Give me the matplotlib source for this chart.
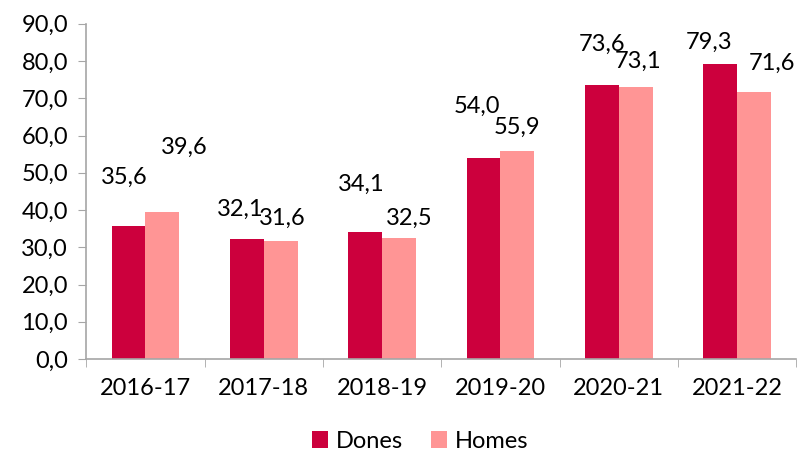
import numpy as np
import matplotlib.pyplot as plt
from matplotlib.ticker import FuncFormatter, FixedLocator

plt.rcParams['font.family'] = ['Lato', 'DejaVu Sans']

years = ['2016-17', '2017-18', '2018-19', '2019-20', '2020-21', '2021-22']
dones = [35.6, 32.1, 34.1, 54.0, 73.6, 79.3]
homes = [39.6, 31.6, 32.5, 55.9, 73.1, 71.6]

# label offsets (pixels) as placed in the original
off_d = [(-4, 49), (-7, 30), (-4, 48), (-7, 52), (0, 41), (-11, 21)]
off_h = [(22, 64), (2, 23), (10, 20), (0, 23), (2, 25), (18, 29)]

c_d = '#CC003D'
c_h = '#FF9595'

fig = plt.figure(figsize=(7.98, 4.53), dpi=100)
ax = fig.add_axes([0.108, 0.2075, 0.89, 0.74])

x = np.arange(len(years))
w = 0.286
ax.bar(x - w/2, dones, w, color=c_d, label='Dones')
ax.bar(x + w/2, homes, w, color=c_h, label='Homes')

for i in range(len(years)):
    ax.annotate(f'{dones[i]:.1f}'.replace('.', ','), (x[i] - w/2, dones[i]),
                xytext=off_d[i], textcoords='offset pixels', ha='center', va='center', fontsize=17)
    ax.annotate(f'{homes[i]:.1f}'.replace('.', ','), (x[i] + w/2, homes[i]),
                xytext=off_h[i], textcoords='offset pixels', ha='center', va='center', fontsize=17)

ax.set_xlim(-0.5, len(years) - 0.5)
ax.set_ylim(0, 90)
ax.set_yticks(np.arange(0, 91, 10))
ax.yaxis.set_major_formatter(FuncFormatter(lambda v, p: f'{v:.1f}'.replace('.', ',')))
ax.set_xticks(x)
ax.set_xticklabels(years)
ax.xaxis.set_minor_locator(FixedLocator(np.arange(-0.5, len(years), 1)))
ax.tick_params(axis='x', which='major', length=0, labelsize=17, pad=14)
ax.tick_params(axis='x', which='minor', length=6, color='#A6A6A6')
ax.tick_params(axis='y', length=6, color='#A6A6A6', labelsize=17, pad=7)

for s in ['top', 'right']:
    ax.spines[s].set_visible(False)
for s in ['left', 'bottom']:
    ax.spines[s].set_color('#A6A6A6')
    ax.spines[s].set_linewidth(1.2)

ax.legend(loc='lower center', bbox_to_anchor=(0.47, -0.34), ncol=2, frameon=False,
          fontsize=17, handlelength=0.7, handleheight=0.7, handletextpad=0.3, columnspacing=1.2)

fig.savefig('out.png', dpi=100)
